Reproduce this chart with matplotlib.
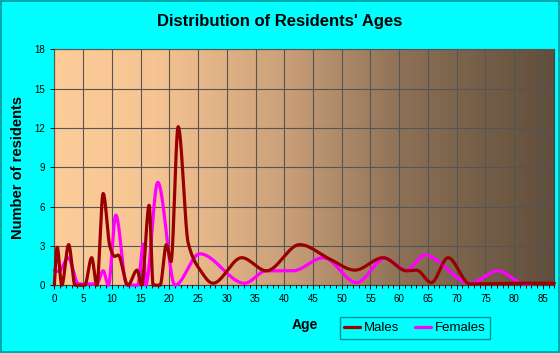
import numpy as np
import matplotlib.pyplot as plt
from matplotlib.colors import LinearSegmentedColormap
from matplotlib.patches import Rectangle

plt.switch_backend('agg')
plt.rcParams['font.family'] = ['Liberation Sans', 'DejaVu Sans']

# key points (peaks / troughs)
male_age = [0, 0.5, 1.3, 2.5, 3.6, 5.3, 6.5, 7.4, 8.5, 9.7, 10.5, 11.1, 12.8,
            14.4, 15.2, 16.5, 17.2, 18.4, 19.5, 20.3, 21.55, 23.3, 25.3, 27.6,
            32.6, 36.9, 42.7, 47.9, 52.3, 57.2, 61.3, 63.0, 65.6, 68.5, 72.3,
            80, 87]
male_val = [0, 2.9, 0, 3.1, 0, 0, 2.1, 0, 7.0, 2.9, 2.2, 2.3, 0,
            1.15, 0, 6.1, 0, 0, 3.1, 1.8, 12.1, 3.2, 1.2, 0.15,
            2.1, 1.1, 3.1, 2.0, 1.15, 2.1, 1.1, 1.15, 0.2, 2.1, 0.1,
            0.15, 0.15]

female_age = [0, 0.8, 2.4, 4.2, 7.4, 8.5, 9.4, 10.7, 12.6, 14.5, 15.5, 15.9,
              18.0, 21.0, 25.3, 33.1, 36.9, 41.5, 46.8, 52.6, 57.5, 61.3,
              64.4, 72.3, 77.2, 81.8, 83]
female_val = [1.15, 1.05, 2.1, 0.1, 0.1, 1.1, 0, 5.35, 0.05, 0, 3.15, 0,
              7.85, 0, 2.4, 0.15, 1.1, 1.1, 2.1, 0.2, 2.05, 1.15,
              2.3, 0.15, 1.1, 0.1, 0.1]

x_ticks = list(range(0, 90, 5))
y_ticks = [0, 3, 6, 9, 12, 15, 18]


def pchip(x, y, xs):
    # monotone cubic, keeps the peaks where they were read
    x = np.asarray(x, float)
    y = np.asarray(y, float)
    h = np.diff(x)
    d = np.diff(y) / h
    m = np.zeros(len(x))
    for k in range(1, len(x) - 1):
        if d[k - 1] * d[k] > 0:
            w1 = 2 * h[k] + h[k - 1]
            w2 = h[k] + 2 * h[k - 1]
            m[k] = (w1 + w2) / (w1 / d[k - 1] + w2 / d[k])
    m[0] = d[0]
    m[-1] = d[-1]
    i = np.clip(np.searchsorted(x, xs) - 1, 0, len(x) - 2)
    t = (xs - x[i]) / h[i]
    h00 = 2 * t**3 - 3 * t**2 + 1
    h10 = t**3 - 2 * t**2 + t
    h01 = -2 * t**3 + 3 * t**2
    h11 = t**3 - t**2
    return h00 * y[i] + h10 * h[i] * m[i] + h01 * y[i + 1] + h11 * h[i] * m[i + 1]


fig = plt.figure(figsize=(5.6, 3.53), dpi=100, facecolor='#00FFFF')
fig.patches.append(Rectangle((0.002, 0.003), 0.996, 0.994, transform=fig.transFigure,
                             fill=False, edgecolor='#009999', linewidth=1.2))
ax = fig.add_axes([0.097, 0.192, 0.893, 0.668])

bg = LinearSegmentedColormap.from_list('bg', [
    (0.0, (252/255, 204/255, 153/255)),
    (0.2, (246/255, 196/255, 146/255)),
    (0.45, (205/255, 162/255, 122/255)),
    (0.7, (140/255, 112/255, 86/255)),
    (1.0, (96/255, 78/255, 60/255))])
ax.imshow(np.linspace(0, 1, 256).reshape(1, -1), cmap=bg, aspect='auto',
          extent=[0, 87, 0, 18], zorder=0)

xs = np.linspace(0, 87, 2000)
xf = np.linspace(0, 83, 2000)
ax.plot(xf, pchip(female_age, female_val, xf), color='#FF00FF', lw=2.3,
        label='Females', zorder=3, clip_on=False, solid_capstyle='round')
ax.plot(xs, pchip(male_age, male_val, xs), color='#990000', lw=2.3,
        label='Males', zorder=4, clip_on=False, solid_capstyle='round')

ax.set_xlim(0, 87)
ax.set_ylim(0, 18)
ax.set_xticks(x_ticks)
ax.set_xticks(range(0, 88), minor=True)
ax.set_yticks(y_ticks)
ax.grid(True, color='#555555', lw=0.8, zorder=1)
ax.set_axisbelow(False)
for s in ax.spines.values():
    s.set_color('#444444')
    s.set_linewidth(0.8)
ax.tick_params(axis='both', labelsize=7, colors='black', length=3, width=0.7)
ax.tick_params(axis='x', which='minor', length=2.5, width=0.7)

ax.set_xlabel('Age', fontsize=10, fontweight='bold', labelpad=10)
ax.set_ylabel('Number of residents', fontsize=10.5, fontweight='bold', labelpad=7)
fig.text(0.5, 0.938, "Distribution of Residents' Ages", ha='center', va='center',
         fontsize=12, fontweight='bold')

h, l = ax.get_legend_handles_labels()
leg = fig.legend(h[::-1], l[::-1], loc='center', bbox_to_anchor=(415 / 560, 1 - 328 / 353),
                 ncol=2, fontsize=9.5, frameon=True, fancybox=False, handlelength=1.2,
                 handletextpad=0.3, columnspacing=1.2, borderpad=0.35)
leg.get_frame().set_facecolor('#00FFFF')
leg.get_frame().set_edgecolor('#007777')
leg.get_frame().set_linewidth(1)

fig.savefig('out.png', dpi=100, facecolor=fig.get_facecolor())
